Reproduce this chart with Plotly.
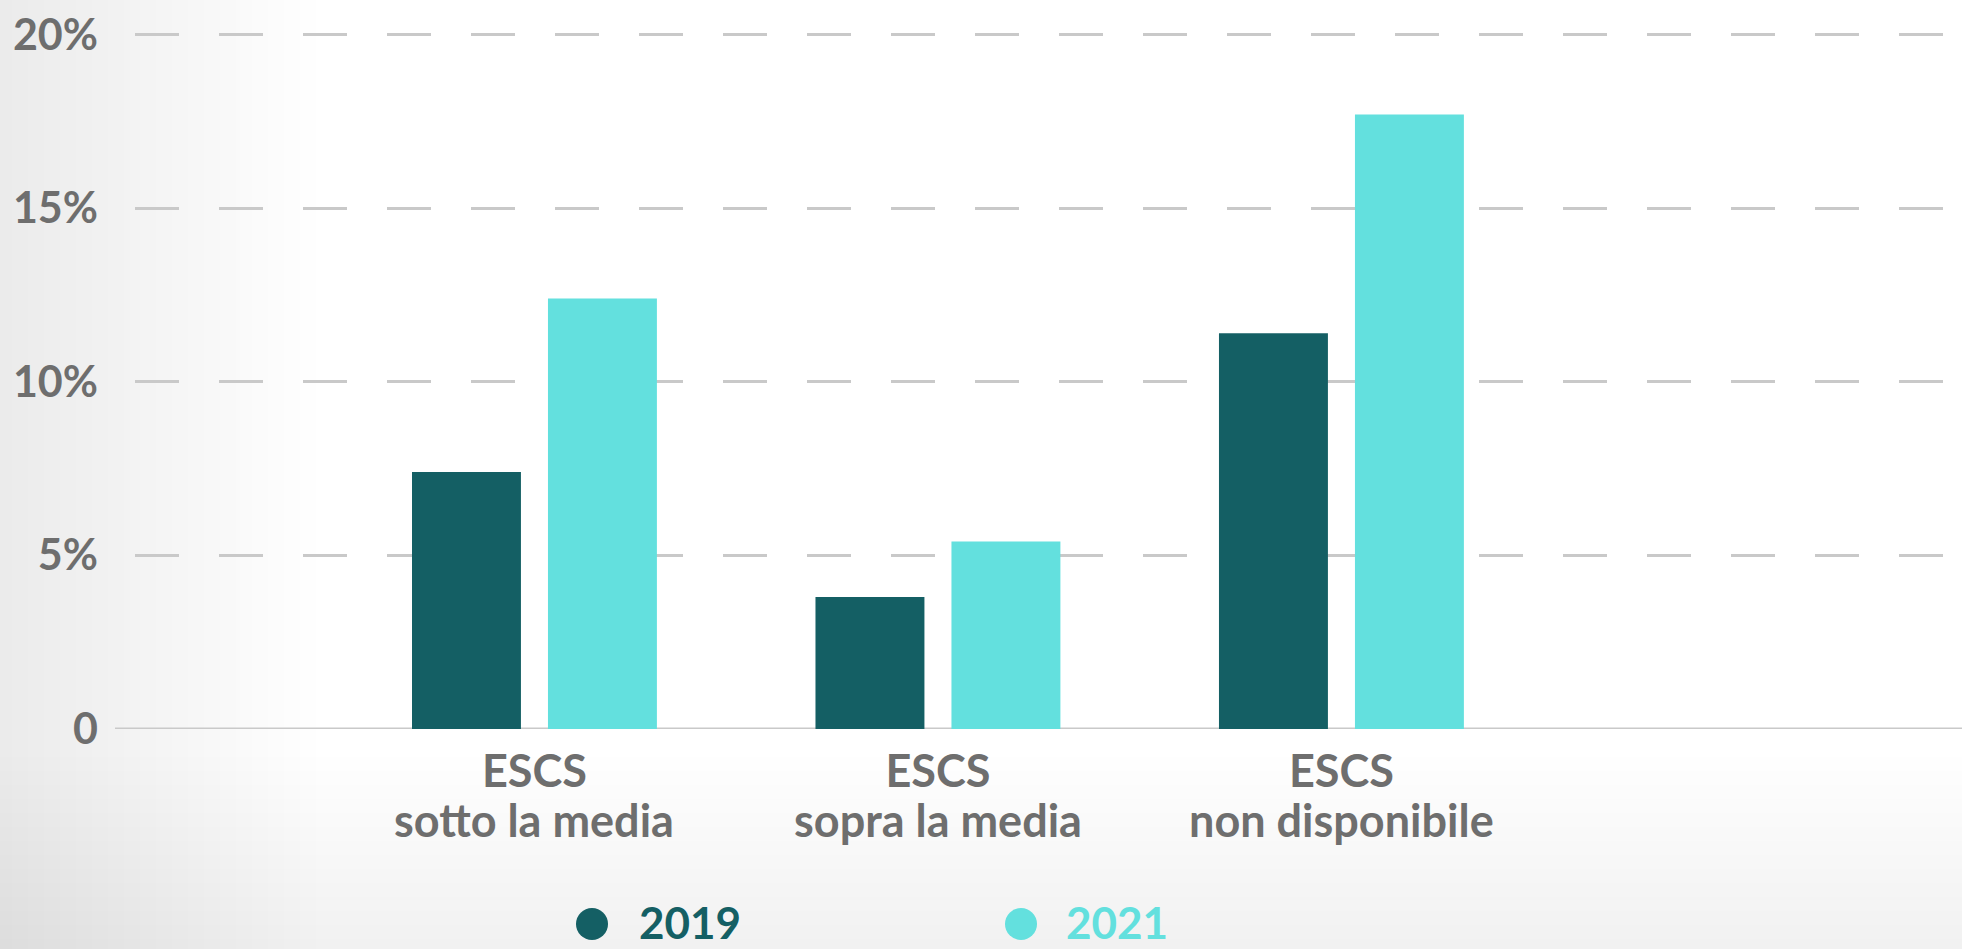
import plotly.graph_objects as go

prefix = "ESCS"
categories = ["sotto la media", "sopra la media", "non disponibile"]
values_2019 = [7.4, 3.8, 11.4]
values_2021 = [12.4, 5.4, 17.7]
series_names = ["2019", "2021"]
tick_vals = [0, 5, 10, 15, 20]
tick_text = ["0", "5%", "10%", "15%", "20%"]

DARK = "#145f64"
LIGHT = "#63e0de"
GRAY = "#6e6e6e"
GRID = "#c9c9c9"

W, H = 1962, 949
left, right, top, bottom = 135, 0, 0, 220
plot_w = W - left - right
plot_h = H - top - bottom


def px_x(x):
    return (x - left) / plot_w


def px_y(y):
    return (H - bottom - y) / plot_h


fig = go.Figure()
fig.add_trace(go.Bar(x=categories, y=values_2019, name=series_names[0],
                     marker=dict(color=DARK, line=dict(width=0)),
                     width=0.27, offset=-0.3035, showlegend=False))
fig.add_trace(go.Bar(x=categories, y=values_2021, name=series_names[1],
                     marker=dict(color=LIGHT, line=dict(width=0)),
                     width=0.27, offset=0.0335, showlegend=False))

# soft vignette background (decoration)
for i in range(20):
    w = 12 + i * 16
    fig.add_shape(type="rect", xref="paper", yref="paper", x0=px_x(0), x1=px_x(w),
                  y0=px_y(H), y1=px_y(0), fillcolor="black", opacity=0.0035,
                  line=dict(width=0), layer="below")
for i in range(14):
    h = 10 + i * 14
    fig.add_shape(type="rect", xref="paper", yref="paper", x0=px_x(0), x1=px_x(W),
                  y0=px_y(H), y1=px_y(H - h), fillcolor="black", opacity=0.003,
                  line=dict(width=0), layer="below")

fig.add_shape(type="line", xref="paper", yref="y", x0=px_x(115), x1=1, y0=0, y1=0,
              line=dict(color=GRID, width=3), layer="below")

# second line of category labels
for c in categories:
    fig.add_annotation(x=c, xref="x", yref="paper", y=px_y(820), text=c, showarrow=False,
                       xanchor="center", yanchor="middle",
                       font=dict(size=45, family="Lato", color=GRAY, weight="bold"))

# legend (circles + labels)
leg_y = 922
for cx, tx, col, name in [(592, 637, DARK, series_names[0]), (1021, 1064, LIGHT, series_names[1])]:
    fig.add_shape(type="circle", xref="paper", yref="paper",
                  x0=px_x(cx - 16), x1=px_x(cx + 16), y0=px_y(leg_y + 18), y1=px_y(leg_y - 14),
                  fillcolor=col, line=dict(width=0))
    fig.add_annotation(xref="paper", yref="paper", x=px_x(tx), y=px_y(leg_y),
                       text=name, showarrow=False, xanchor="left", yanchor="middle",
                       font=dict(size=44, family="Lato", color=col, weight="bold"))

fig.update_layout(
    width=W, height=H,
    margin=dict(l=left, r=right, t=top, b=bottom, pad=0),
    paper_bgcolor="#ffffff", plot_bgcolor="rgba(0,0,0,0)",
    font=dict(family="Lato", color=GRAY, weight="bold"),
    barmode="group",
    xaxis=dict(type="category", range=[-0.99, 3.538], showgrid=False, zeroline=False,
               showline=False, ticks="", tickvals=categories, ticktext=[prefix] * len(categories),
               tickfont=dict(size=45, family="Lato", color=GRAY, weight="bold"),
               ticklabelstandoff=12),
    yaxis=dict(range=[0, 21], tickvals=tick_vals, ticktext=tick_text, showgrid=True,
               gridcolor=GRID, gridwidth=3, griddash="44px,40px", zeroline=False,
               showline=False, ticks="", ticklabelstandoff=36,
               tickfont=dict(size=43, family="Lato", color=GRAY, weight="bold")),
)

fig.write_html("out.html", config={"displayModeBar": False},
               post_script="document.body.style.margin='0';document.body.style.overflow='hidden';")
